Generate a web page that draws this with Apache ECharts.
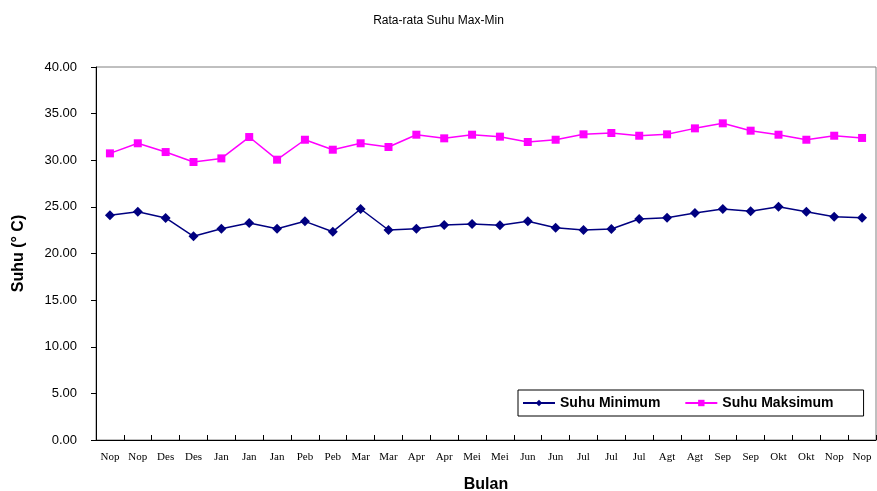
<!DOCTYPE html>
<html><head><meta charset="utf-8">
<script src="https://cdn.jsdelivr.net/npm/echarts@6/dist/echarts.min.js"></script>
<style>html,body{margin:0;padding:0;background:#fff}#c{width:877px;height:491px}</style>
</head><body><div id="c"></div>
<script>
const categories = ["Nop","Nop","Des","Des","Jan","Jan","Jan","Peb","Peb","Mar","Mar","Apr","Apr","Mei","Mei","Jun","Jun","Jul","Jul","Jul","Agt","Agt","Sep","Sep","Okt","Okt","Nop","Nop"];
const suhuMinimum = [24.09,24.48,23.81,21.84,22.66,23.27,22.66,23.45,22.34,24.77,22.52,22.66,23.06,23.16,23.02,23.45,22.77,22.52,22.63,23.70,23.84,24.34,24.77,24.52,25.02,24.48,23.95,23.84];
const suhuMaksimum = [30.74,31.82,30.88,29.81,30.20,32.49,30.06,32.20,31.13,31.82,31.42,32.74,32.35,32.74,32.53,31.96,32.20,32.78,32.92,32.63,32.78,33.42,33.96,33.17,32.74,32.20,32.63,32.39];
const yTicks = [0,5,10,15,20,25,30,35,40];

const chart = echarts.init(document.getElementById('c'));
chart.setOption({
  animation:false,
  title:{text:'Rata-rata Suhu Max-Min',left:'center',top:10,textStyle:{fontFamily:'Liberation Sans, Arial',fontSize:12,fontWeight:'normal',color:'#000'}},
  grid:{left:96,right:1,top:67,bottom:51,outerBoundsMode:'none',containLabel:false,show:true,borderColor:'#808080',borderWidth:1},
  legend:{
    left:518,top:390,orient:'horizontal',itemGap:24,itemWidth:32,itemHeight:8,
    backgroundColor:'#fff',borderColor:'#000',borderWidth:1,padding:[6,30,6,4],borderRadius:0,
    textStyle:{fontFamily:'Liberation Sans, Arial',fontSize:14,fontWeight:'bold',color:'#000'},
    data:['Suhu Minimum','Suhu Maksimum']
  },
  xAxis:{type:'category',data:categories,boundaryGap:true,
    name:'Bulan',nameLocation:'middle',nameGap:37,
    nameTextStyle:{fontFamily:'Liberation Sans, Arial',fontSize:16,fontWeight:'bold',color:'#000'},
    axisLine:{lineStyle:{color:'#000',width:1}},
    axisTick:{show:true,inside:true,length:5,lineStyle:{color:'#000'}},
    axisLabel:{interval:0,margin:12,fontFamily:'Liberation Serif, Times New Roman',fontSize:11,color:'#000'}
  },
  yAxis:{type:'value',min:0,max:40,interval:5,
    name:'Suhu (° C)',nameLocation:'middle',nameGap:69,nameRotate:90,
    nameTextStyle:{fontFamily:'Liberation Sans, Arial',fontSize:16,fontWeight:'bold',color:'#000'},
    axisLine:{show:true,lineStyle:{color:'#000',width:1}},
    axisTick:{show:true,length:5,lineStyle:{color:'#000'}},
    splitLine:{show:false},
    axisLabel:{margin:19,fontFamily:'Liberation Sans, Arial',fontSize:13,color:'#000',formatter:v=>yTicks.includes(v)?v.toFixed(2):''}
  },
  series:[
    {name:'Suhu Minimum',type:'line',data:suhuMinimum,symbol:'diamond',symbolSize:10,
     lineStyle:{color:'#000080',width:1.5},itemStyle:{color:'#000080'}},
    {name:'Suhu Maksimum',type:'line',data:suhuMaksimum,symbol:'rect',symbolSize:8,
     lineStyle:{color:'#ff00ff',width:1.5},itemStyle:{color:'#ff00ff'}}
  ]
});
</script></body></html>
